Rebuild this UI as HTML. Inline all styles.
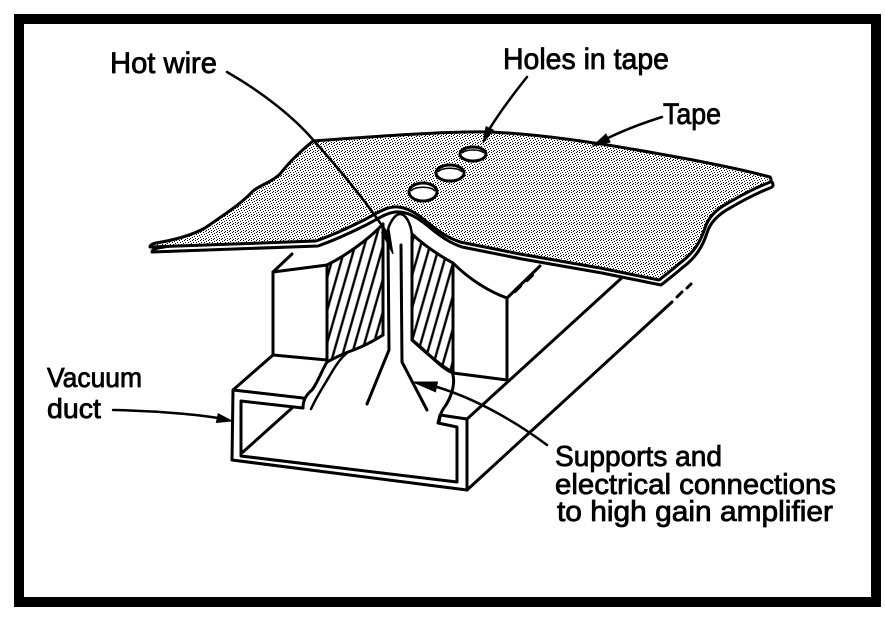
<!DOCTYPE html>
<html><head><meta charset="utf-8"><style>
html,body{margin:0;padding:0;background:#fff;}
svg{display:block;}
text{font-family:"Liberation Sans",Arial,sans-serif;fill:#000;stroke:#000;stroke-width:0.8;}
</style></head><body>
<svg width="885" height="617" viewBox="0 0 885 617" xmlns="http://www.w3.org/2000/svg">
<defs>
<pattern id="dots" width="8" height="8" patternUnits="userSpaceOnUse">
<rect width="8" height="8" fill="#fff"/>
<g fill="#000">
<rect x="0" y="0" width="1" height="1"/>
<rect x="3" y="0" width="1" height="1"/>
<rect x="6" y="1" width="1" height="1"/>
<rect x="1" y="2" width="1" height="1"/>
<rect x="4" y="2" width="1" height="1"/>
<rect x="7" y="3" width="1" height="1"/>
<rect x="2" y="4" width="1" height="1"/>
<rect x="5" y="4" width="1" height="1"/>
<rect x="0" y="5" width="1" height="1"/>
<rect x="3" y="6" width="1" height="1"/>
<rect x="6" y="6" width="1" height="1"/>
<rect x="1" y="7" width="1" height="1"/>
<rect x="5" y="7" width="1" height="1"/>
</g>
</pattern>
<pattern id="hatch" width="9" height="40" patternUnits="userSpaceOnUse" patternTransform="rotate(16)">
<rect width="9" height="40" fill="#fff"/>
<line x1="4" y1="0" x2="4" y2="40" stroke="#000" stroke-width="2.4"/>
</pattern>
</defs>

<rect x="19" y="19" width="857" height="583" fill="#fff" stroke="#000" stroke-width="10"/>

<g fill="none" stroke="#000" stroke-width="3" stroke-linejoin="round" stroke-linecap="round">
<line x1="467" y1="419" x2="626" y2="274"/>
<line x1="467" y1="490" x2="672" y2="302"/>
<line x1="677" y1="297" x2="682" y2="292"/>
<line x1="687" y1="288" x2="691" y2="284"/>

<path d="M453,263 C470,280 490,292 507,298 L507,380 L453,373 Z" fill="#fff"/>
<path d="M507,298 L540,266"/>
<path d="M515,291 L520,286 M527,280 L532,275" stroke-width="4"/>
<path d="M412,234 C425,246 440,256 453,263 L453,373 C440,368 428,352 412,340 Z" fill="url(#hatch)"/>

<path d="M273,272 L327,265 L327,360 L273,355 Z" fill="#fff"/>
<path d="M273,272 L292,254"/>
<path d="M327,265 C345,256 368,240 383,224 L383,335 C372,342 360,348 348,352 C338,356 331,360 327,362 Z" fill="url(#hatch)"/>

<path d="M233,390 L273,355"/>

<path d="M303,398 L233,390 L232,460 L467,490 L467,419 L440,415 L438,423 L457,427 L457,482 L241,456 L241,401 L303,408" fill="none"/>
<path d="M243,452 L292,408"/>

<path d="M327,362 C322,370 318,382 312,390 C306,395 303,400 303,408"/>
<path d="M348,352 C338,360 332,372 326,382 C320,392 316,398 311,409" stroke-width="2.5"/>
<path d="M412,340 C425,352 440,365 452,372 C456,382 452,395 446,405 C442,410 440,414 439,423"/>

<line x1="383" y1="224" x2="383" y2="335"/>
<line x1="412" y1="234" x2="412" y2="340"/>
<path d="M388,238 L389,350 L367,404"/>
<path d="M401,245 L402,362 L427,410"/>
</g>

<path transform="translate(2,5)" d="M313,141 C380,136 450,131 490,132 C540,134 600,143 660,154 C700,161 740,169 770,177 C772,180 771,182 768,183 C755,188 740,196 728,203 C715,210 708,218 705,228 C701,240 695,252 680,263 C672,270 664,276 659,280 L600,268 L520,254 L460,242 C448,238 440,232 432,226 C420,216 410,208 398,207 C386,206 376,214 362,221 C348,228 330,236 316,241 L150,247 C150,245 152,244 156,243 C175,240 192,235 205,228 C222,216 240,205 253,191 C262,184 272,182 280,174 C288,164 295,156 313,141 Z" fill="#fff" stroke="#000" stroke-width="3" stroke-linejoin="round"/>
<path d="M313,141 C380,136 450,131 490,132 C540,134 600,143 660,154 C700,161 740,169 770,177 C772,180 771,182 768,183 C755,188 740,196 728,203 C715,210 708,218 705,228 C701,240 695,252 680,263 C672,270 664,276 659,280 L600,268 L520,254 L460,242 C448,238 440,232 432,226 C420,216 410,208 398,207 C386,206 376,214 362,221 C348,228 330,236 316,241 L150,247 C150,245 152,244 156,243 C175,240 192,235 205,228 C222,216 240,205 253,191 C262,184 272,182 280,174 C288,164 295,156 313,141 Z" fill="url(#dots)" stroke="#000" stroke-width="3" stroke-linejoin="round"/>

<path d="M387,236 C388,222 396,214 400,214 C405,214 411,222 412,236" fill="#fff" stroke="#000" stroke-width="2.5"/>

<g fill="#fff" stroke="#000" stroke-width="3">
<ellipse cx="473" cy="154" rx="13" ry="7"/>
<ellipse cx="450" cy="173" rx="14" ry="8"/>
<ellipse cx="423" cy="192" rx="14" ry="9"/>
</g>
<g fill="none" stroke="#000" stroke-width="1.5">
<path d="M462,153 C466,149 480,149 484,153"/>
<path d="M438,172 C442,167 458,167 462,172"/>
<path d="M411,191 C415,186 431,186 435,191"/>
</g>

<g fill="none" stroke="#000" stroke-width="2.5" stroke-linecap="round">
<path d="M227,72 C262,92 295,118 315,142 C340,170 365,200 385,230"/>
<path d="M527,77 C515,92 500,112 490,128"/>
<path d="M662,117 C640,124 620,132 606,139"/>
<path d="M113,410 C160,411 200,415 218,418"/>
<path d="M547,445 C520,425 480,400 437,387"/>
</g>
<g fill="#000" stroke="#000" stroke-width="1">
<polygon points="393,254 389.2,229.9 381.6,232.5"/>
<polygon points="483,143 493.3,130.1 486.1,126.7"/>
<polygon points="593,146 610.1,142 605.9,134"/>
<polygon points="232,421 216.4,422.5 218.2,413.7"/>
<polygon points="413,382 437.5,382 435.5,391.8"/>
</g>

<text x="110" y="73" font-size="30" textLength="107" lengthAdjust="spacingAndGlyphs">Hot wire</text>
<text x="503" y="69" font-size="30" textLength="166" lengthAdjust="spacingAndGlyphs">Holes in tape</text>
<text x="663" y="124" font-size="30" textLength="58" lengthAdjust="spacingAndGlyphs">Tape</text>
<text x="47" y="387" font-size="28" textLength="95" lengthAdjust="spacingAndGlyphs">Vacuum</text>
<text x="47" y="418" font-size="28" textLength="54" lengthAdjust="spacingAndGlyphs">duct</text>
<text x="555" y="466" font-size="29" textLength="167" lengthAdjust="spacingAndGlyphs">Supports and</text>
<text x="555" y="494" font-size="29" textLength="281" lengthAdjust="spacingAndGlyphs">electrical connections</text>
<text x="557" y="521" font-size="29" textLength="276" lengthAdjust="spacingAndGlyphs">to high gain amplifier</text>
</svg>
</body></html>
